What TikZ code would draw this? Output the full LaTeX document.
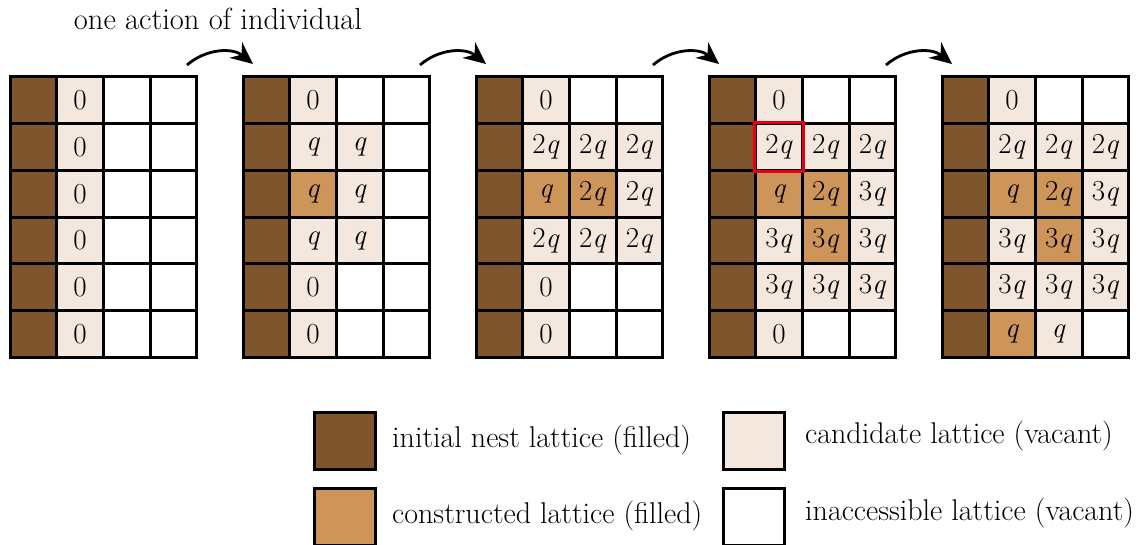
\documentclass[tikz,border=0pt]{standalone}
\usepackage{fontspec}
\usetikzlibrary{arrows.meta}

\definecolor{nestbrown}{RGB}{127,85,46}
\definecolor{builtbrown}{RGB}{206,149,90}
\definecolor{candcream}{RGB}{244,232,222}
\definecolor{markred}{RGB}{230,0,18}

\tikzset{
  cellbox/.style={draw=black, line width=3pt, minimum width=46.7pt, minimum height=46.7pt,
    inner sep=0pt, anchor=center, font=\fontsize{29}{34}\selectfont},
  nest/.style={cellbox, fill=nestbrown},
  built/.style={cellbox, fill=builtbrown},
  cand/.style={cellbox, fill=candcream},
  void/.style={cellbox, fill=white},
  keybox/.style={draw=black, line width=3pt, minimum width=61pt, minimum height=57pt,
    inner sep=0pt, anchor=north west},
  keytext/.style={anchor=base west, inner sep=0pt, font=\fontsize{30}{36}\selectfont},
  stepflow/.style={line width=2.8pt, -{Stealth[length=22pt,width=20pt]}, bend left=40}
}

% one row of a lattice: grid, row, then style/text for columns 1..3
\newcommand\latrow[8]{%
  \node[nest] (g#1c0r#2) at ({10+233*#1+46.7*0.5},{77+46.7*(#2+0.5)}) {};
  \node[#3] (g#1c1r#2) at ({10+233*#1+46.7*1.5},{77+46.7*(#2+0.5)}) {#4};
  \node[#5] (g#1c2r#2) at ({10+233*#1+46.7*2.5},{77+46.7*(#2+0.5)}) {#6};
  \node[#7] (g#1c3r#2) at ({10+233*#1+46.7*3.5},{77+46.7*(#2+0.5)}) {#8};
}
\newcommand\qq{\textit{q}}

\begin{document}
\begin{tikzpicture}[x=1pt,y=-1pt]
\useasboundingbox (0,0) rectangle (1146,545);

% grid 0
\foreach \r in {0,...,5} {\latrow{0}{\r}{cand}{0}{void}{}{void}{}}

% grid 1
\latrow{1}{0}{cand}{0}{void}{}{void}{}
\latrow{1}{1}{cand}{\qq}{cand}{\qq}{void}{}
\latrow{1}{2}{built}{\qq}{cand}{\qq}{void}{}
\latrow{1}{3}{cand}{\qq}{cand}{\qq}{void}{}
\latrow{1}{4}{cand}{0}{void}{}{void}{}
\latrow{1}{5}{cand}{0}{void}{}{void}{}

% grid 2
\latrow{2}{0}{cand}{0}{void}{}{void}{}
\latrow{2}{1}{cand}{2\qq}{cand}{2\qq}{cand}{2\qq}
\latrow{2}{2}{built}{\qq}{built}{2\qq}{cand}{2\qq}
\latrow{2}{3}{cand}{2\qq}{cand}{2\qq}{cand}{2\qq}
\latrow{2}{4}{cand}{0}{void}{}{void}{}
\latrow{2}{5}{cand}{0}{void}{}{void}{}

% grid 3
\latrow{3}{0}{cand}{0}{void}{}{void}{}
\latrow{3}{1}{cand}{2\qq}{cand}{2\qq}{cand}{2\qq}
\latrow{3}{2}{built}{\qq}{built}{2\qq}{cand}{3\qq}
\latrow{3}{3}{cand}{3\qq}{built}{3\qq}{cand}{3\qq}
\latrow{3}{4}{cand}{3\qq}{cand}{3\qq}{cand}{3\qq}
\latrow{3}{5}{cand}{0}{void}{}{void}{}
\draw[markred, line width=3pt] (g3c1r1.north west) rectangle (g3c1r1.south east);

% grid 4
\latrow{4}{0}{cand}{0}{void}{}{void}{}
\latrow{4}{1}{cand}{2\qq}{cand}{2\qq}{cand}{2\qq}
\latrow{4}{2}{built}{\qq}{built}{2\qq}{cand}{3\qq}
\latrow{4}{3}{cand}{3\qq}{built}{3\qq}{cand}{3\qq}
\latrow{4}{4}{cand}{3\qq}{cand}{3\qq}{cand}{3\qq}
\latrow{4}{5}{built}{\qq}{cand}{\qq}{void}{}

% caption over the first step
\node[anchor=base, inner sep=0pt, font=\fontsize{30.5}{36}\selectfont] (title) at (218,30) {one action of individual};

% step arrows between successive grids
\foreach \k in {0,...,3} {
  \coordinate (from\k) at ({187+233*\k},65);
  \coordinate (to\k) at ({253+233*\k},64);
  \draw[stepflow] (from\k) to (to\k);
}

% legend
\node[keybox, fill=nestbrown] (k1) at (313,411) {};
\node[keytext] (t1) at (392,447) {initial nest lattice (filled)};
\node[keybox, fill=builtbrown] (k2) at (313,487) {};
\node[keytext] (t2) at (392,523) {constructed lattice (filled)};
\node[keybox, fill=candcream] (k3) at (722,411) {};
\node[keytext] (t3) at (805,443) {candidate lattice (vacant)};
\node[keybox, fill=white] (k4) at (722,487) {};
\node[keytext] (t4) at (805,520) {inaccessible lattice (vacant)};
\end{tikzpicture}
\end{document}
